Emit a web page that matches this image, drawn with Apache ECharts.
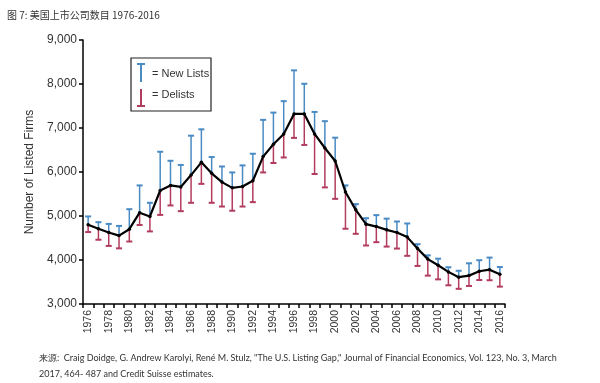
<!DOCTYPE html>
<html>
<head>
<meta charset="utf-8">
<script src="https://cdn.jsdelivr.net/npm/echarts@6/dist/echarts.min.js"></script>
<style>html,body{margin:0;padding:0;background:#fff}#c{width:600px;height:383px}</style>
</head>
<body>
<div id="c"></div>
<script>
var years = [];
for (var y = 1976; y <= 2016; y++) years.push(String(y));
var firms = [4800,4710,4625,4555,4700,5075,4990,5580,5695,5660,5930,6220,5970,5770,5640,5670,5800,6350,6630,6865,7320,7320,6865,6545,6250,5545,5140,4815,4760,4685,4625,4520,4260,4020,3880,3730,3610,3645,3745,3780,3675];
var newLists = [190,150,195,220,455,620,310,880,560,500,895,750,370,355,350,480,615,835,720,745,990,685,500,610,530,150,130,135,260,255,250,310,100,85,150,105,145,280,250,275,165];
var delists = [165,250,305,290,280,280,340,555,455,550,630,490,670,555,520,455,485,360,425,535,545,705,910,895,860,835,545,485,355,380,365,425,395,375,320,305,265,235,200,240,280];
var yTicks = [3000,4000,5000,6000,7000,8000,9000];

var BLUE = '#4a8bc4', RED = '#b23c5e';
function barData(sign, arr) {
  return firms.map(function (v, i) { return [i, v, v + sign * arr[i]]; });
}
function errRender(color) {
  return function (params, api) {
    var p0 = api.coord([api.value(0), api.value(1)]);
    var p1 = api.coord([api.value(0), api.value(2)]);
    var w = 3;
    return {
      type: 'group',
      children: [
        {type: 'line', shape: {x1: p0[0], y1: p0[1], x2: p1[0], y2: p1[1]}, style: {stroke: color, lineWidth: 1.5}},
        {type: 'line', shape: {x1: p1[0] - w, y1: p1[1], x2: p1[0] + w, y2: p1[1]}, style: {stroke: color, lineWidth: 2}}
      ]
    };
  };
}

var chart = echarts.init(document.getElementById('c'));
chart.setOption({
  animation: false,
  backgroundColor: '#fff',
  grid: {left: 83, right: 95, top: 40, bottom: 79},
  title: {
    text: '图 7: 美国上市公司数目 1976-2016', left: 2, top: 5,
    textStyle: {fontSize: 10, fontWeight: 'normal', color: '#333', fontFamily: 'Noto Sans CJK SC'}
  },
  xAxis: {
    type: 'category', data: years, boundaryGap: true,
    axisLine: {lineStyle: {color: '#000', width: 1.5}},
    axisTick: {show: true, interval: 0, length: 4, lineStyle: {color: '#000', width: 1.5}},
    axisLabel: {interval: 1, rotate: 90, fontSize: 10.5, color: '#333', fontFamily: 'Liberation Sans', margin: 6}
  },
  yAxis: {
    type: 'value', min: 3000, max: 9000, interval: 1000,
    name: 'Number of Listed Firms', nameLocation: 'middle', nameGap: 44, nameRotate: 90,
    nameTextStyle: {fontSize: 12, color: '#333', fontFamily: 'Liberation Sans'},
    splitLine: {show: false},
    axisLine: {show: true, lineStyle: {color: '#000', width: 1.5}},
    axisTick: {show: true, length: 4, lineStyle: {color: '#000', width: 1.5}},
    axisLabel: {fontSize: 12, color: '#333', fontFamily: 'Liberation Sans', margin: 6,
      formatter: function (v) { return yTicks.indexOf(v) >= 0 ? v.toLocaleString('en-US') : ''; }}
  },
  series: [
    {type: 'custom', name: 'New Lists', renderItem: errRender(BLUE), data: barData(1, newLists), encode: {x: 0, y: [1, 2]}, z: 2},
    {type: 'custom', name: 'Delists', renderItem: errRender(RED), data: barData(-1, delists), encode: {x: 0, y: [1, 2]}, z: 2},
    {type: 'line', data: firms, symbol: 'circle', symbolSize: 3.5, lineStyle: {color: '#000', width: 2.2},
      itemStyle: {color: '#000'}, z: 5}
  ],
  graphic: [
    {type: 'rect', shape: {x: 131, y: 58, width: 80, height: 53}, style: {fill: '#fff', stroke: '#222', lineWidth: 1.2}},
    {type: 'line', shape: {x1: 141, y1: 64, x2: 141, y2: 82}, style: {stroke: BLUE, lineWidth: 2}},
    {type: 'line', shape: {x1: 137, y1: 64, x2: 145, y2: 64}, style: {stroke: BLUE, lineWidth: 2}},
    {type: 'line', shape: {x1: 141, y1: 89, x2: 141, y2: 106}, style: {stroke: RED, lineWidth: 2}},
    {type: 'line', shape: {x1: 137, y1: 106, x2: 145, y2: 106}, style: {stroke: RED, lineWidth: 2}},
    {type: 'text', left: 152, top: 68, style: {text: '= New Lists', fontSize: 11, fill: '#333', fontFamily: 'Liberation Sans'}},
    {type: 'text', left: 152, top: 89, style: {text: '= Delists', fontSize: 11, fill: '#333', fontFamily: 'Liberation Sans'}},
    {type: 'text', left: 39, top: 350, style: {text: '来源:  Craig Doidge, G. Andrew Karolyi, René M. Stulz, "The U.S. Listing Gap," Journal of Financial Economics, Vol. 123, No. 3, March\n2017, 464- 487 and Credit Suisse estimates.', fontSize: 9, lineHeight: 16, fill: '#333', fontFamily: 'Lato'}}
  ]
});
</script>
</body>
</html>
